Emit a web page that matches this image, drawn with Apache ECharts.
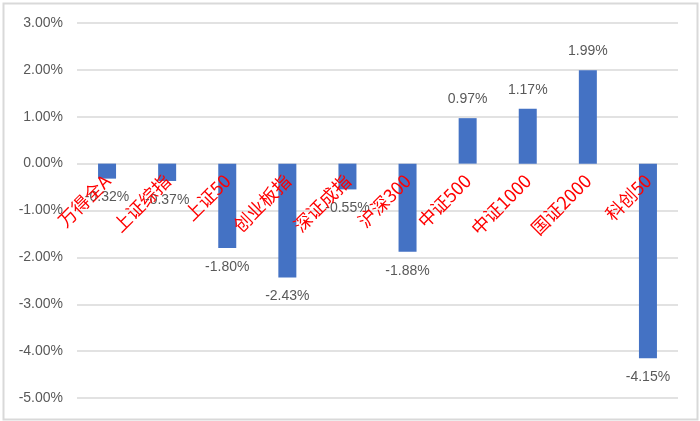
<!DOCTYPE html>
<html>
<head>
<meta charset="utf-8">
<script src="https://cdn.jsdelivr.net/npm/echarts@6/dist/echarts.min.js"></script>
<style>
html,body{margin:0;padding:0;background:#fff;}
#c{width:700px;height:421px;}
</style>
</head>
<body>
<div id="c"></div>
<script>
const categories = ['万得全A','上证综指','上证50','创业板指','深证成指','沪深300','中证500','中证1000','国证2000','科创50'];
const values = [-0.32, -0.37, -1.80, -2.43, -0.55, -1.88, 0.97, 1.17, 1.99, -4.15];
const yMin = -5, yMax = 3, yStep = 1;

const chart = echarts.init(document.getElementById('c'));
chart.setOption({
  animation: false,
  backgroundColor: '#fff',
  graphic: [{
    type: 'rect', left: 1, top: 1, z: 100,
    shape: {width: 694, height: 416},
    style: {fill: 'none', stroke: '#d9d9d9', lineWidth: 2}
  }],
  grid: {left: 77, right: 22, top: 23, bottom: 23, containLabel: false, outerBoundsMode: 'none'},
  xAxis: {
    type: 'category',
    data: categories,
    z: 10,
    axisLine: {show: false, onZero: false},
    axisTick: {show: false},
    axisLabel: {
      rotate: 45, interval: 0, margin: 14,
      color: '#ff0000', fontSize: 18,
      fontFamily: 'Noto Sans CJK SC'
    }
  },
  yAxis: {
    type: 'value', min: yMin, max: yMax, interval: yStep,
    axisLine: {show: false}, axisTick: {show: false},
    splitLine: {lineStyle: {color: '#d9d9d9', width: 1.5}},
    axisLabel: {
      margin: 14, color: '#595959', fontSize: 14,
      fontFamily: 'Liberation Sans',
      formatter: v => v.toFixed(2) + '%'
    }
  },
  series: [{
    type: 'bar',
    data: values,
    barWidth: 18,
    itemStyle: {color: '#4472C4'},
    label: {
      show: true, position: 'outside', distance: 12,
      color: '#595959', fontSize: 14, fontFamily: 'Liberation Sans',
      formatter: p => p.value.toFixed(2) + '%'
    }
  }]
});
// move the category axis to the zero line using the library's own scale
const zeroPx = chart.convertToPixel({yAxisIndex: 0}, 0);
const minPx = chart.convertToPixel({yAxisIndex: 0}, yMin);
chart.setOption({xAxis: {offset: zeroPx - minPx}});
</script>
</body>
</html>
